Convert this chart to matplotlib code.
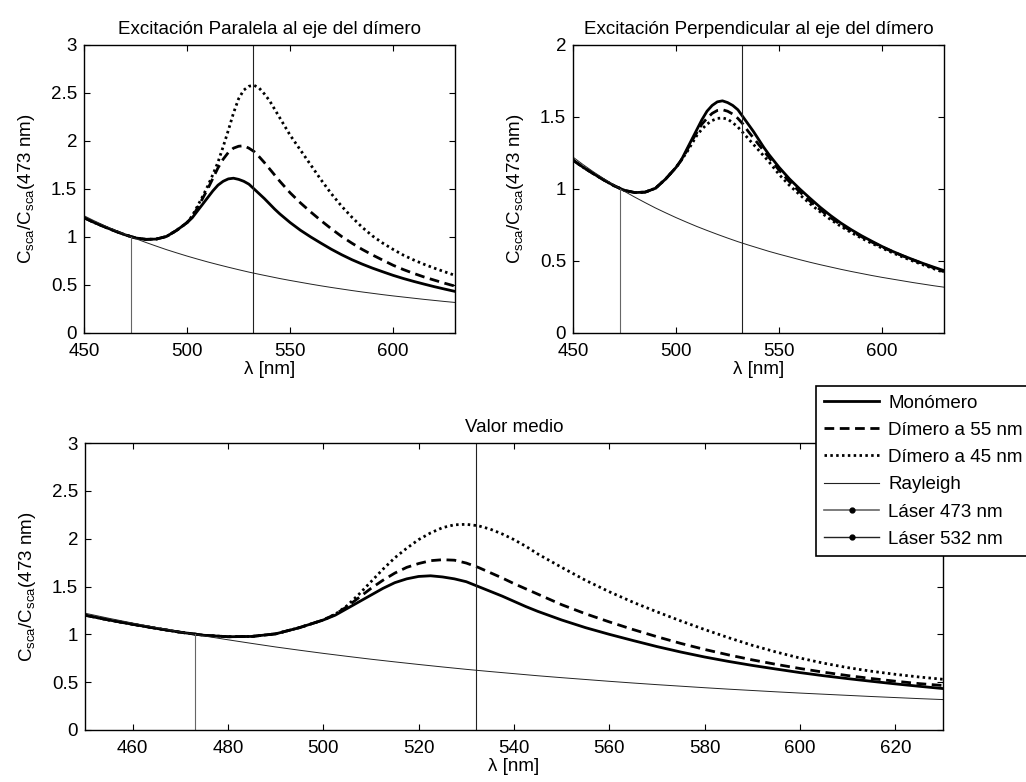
import numpy as np
import matplotlib
matplotlib.use("Agg")
import matplotlib.pyplot as plt
from matplotlib.lines import Line2D
from matplotlib.legend_handler import HandlerLine2D

plt.rcParams['font.family'] = ['Liberation Sans', 'DejaVu Sans']
FS = 13.5
plt.rcParams['font.size'] = FS

# --- Data (wavelength in nm) ---
# finer sampling across the plasmon peak (500-550 nm)
wl = np.concatenate([np.arange(450, 500, 5), np.arange(500, 550, 2.5), np.arange(550, 631, 5)])
wl_ray = np.arange(450, 631, 5)

# 450..495 nm, identical for every curve
base = [1.20, 1.15, 1.105, 1.062, 1.022, 0.99, 0.975, 0.978, 1.005, 1.07]

mono = base + [1.15, 1.20, 1.27, 1.34, 1.41, 1.48, 1.54, 1.58, 1.605, 1.612,
               1.60, 1.58, 1.55, 1.50, 1.45, 1.40, 1.345, 1.29, 1.24, 1.195] + \
              [1.15, 1.07, 1.00, 0.935, 0.872, 0.815, 0.763, 0.717, 0.675, 0.637,
               0.600, 0.567, 0.537, 0.509, 0.482, 0.457, 0.433]

# parallel excitation
par55 = base + [1.15, 1.21, 1.30, 1.40, 1.50, 1.61, 1.72, 1.81, 1.88, 1.925,
                1.945, 1.95, 1.925, 1.89, 1.835, 1.775, 1.71, 1.645, 1.58, 1.52] + \
               [1.46, 1.355, 1.26, 1.17, 1.085, 1.005, 0.935, 0.87, 0.812, 0.758,
                0.705, 0.66, 0.62, 0.583, 0.55, 0.518, 0.488]
par45 = base + [1.15, 1.22, 1.32, 1.42, 1.53, 1.65, 1.78, 1.94, 2.11, 2.29,
                2.44, 2.53, 2.57, 2.58, 2.55, 2.49, 2.42, 2.33, 2.24, 2.15] + \
               [2.06, 1.905, 1.75, 1.595, 1.45, 1.32, 1.205, 1.10, 1.01, 0.935,
                0.87, 0.81, 0.76, 0.715, 0.675, 0.637, 0.60]

# perpendicular excitation
per55 = base + [1.15, 1.20, 1.26, 1.33, 1.39, 1.45, 1.49, 1.525, 1.545, 1.55,
                1.54, 1.52, 1.49, 1.45, 1.40, 1.355, 1.31, 1.265, 1.22, 1.175] + \
               [1.13, 1.05, 0.98, 0.915, 0.855, 0.80, 0.752, 0.708, 0.668, 0.631,
                0.597, 0.565, 0.535, 0.507, 0.48, 0.452, 0.425]
per45 = base + [1.15, 1.20, 1.25, 1.31, 1.37, 1.415, 1.45, 1.475, 1.49, 1.493,
                1.485, 1.46, 1.43, 1.39, 1.35, 1.31, 1.27, 1.23, 1.19, 1.145] + \
               [1.10, 1.025, 0.96, 0.897, 0.84, 0.787, 0.74, 0.697, 0.658, 0.622,
                0.589, 0.557, 0.527, 0.499, 0.472, 0.446, 0.42]

# mean value
avg55 = base + [1.15, 1.21, 1.29, 1.385, 1.48, 1.565, 1.64, 1.70, 1.74, 1.77,
                1.78, 1.775, 1.745, 1.70, 1.645, 1.59, 1.53, 1.475, 1.42, 1.365] + \
               [1.31, 1.215, 1.13, 1.05, 0.975, 0.905, 0.842, 0.785, 0.733, 0.686,
                0.643, 0.604, 0.569, 0.538, 0.51, 0.485, 0.465]
avg45 = base + [1.15, 1.21, 1.30, 1.42, 1.55, 1.68, 1.80, 1.90, 1.99, 2.06,
                2.115, 2.145, 2.15, 2.135, 2.10, 2.05, 1.99, 1.92, 1.84, 1.77] + \
               [1.70, 1.565, 1.445, 1.335, 1.235, 1.14, 1.05, 0.965, 0.885, 0.815,
                0.752, 0.698, 0.652, 0.614, 0.582, 0.554, 0.53]

rayleigh = [1.221, 1.168, 1.118, 1.071, 1.026, 0.983, 0.943, 0.905, 0.868, 0.834,
            0.801, 0.770, 0.740, 0.712, 0.685, 0.659, 0.634, 0.611, 0.589, 0.567,
            0.547, 0.528, 0.509, 0.491, 0.474, 0.458, 0.442, 0.427, 0.413, 0.399,
            0.386, 0.374, 0.362, 0.350, 0.339, 0.328, 0.318]

laser_wl = [473, 532]
laser_top = [1.0, None]   # 473 nm stem stops on the curve, 532 nm reaches the top
labels = ['Monómero', 'Dímero a 55 nm', 'Dímero a 45 nm', 'Rayleigh',
          'Láser 473 nm', 'Láser 532 nm']

ylab = 'C$_\\mathregular{sca}$/C$_\\mathregular{sca}$(473 nm)'
LW = 2.0
DASH = (3.5, 2)
DOT = (0.9, 1.2)
laser_cols = ['#666666', '#222222']


class StemHandler(HandlerLine2D):
    # MATLAB stem legend: marker sits at the right end of the line
    def get_xdata(self, legend, xdescent, ydescent, width, height, fontsize):
        return [-xdescent, -xdescent + width], [-xdescent + width]


def draw(ax, m, d55, d45, ymax, title, xticks):
    ax.plot(wl, m, color='k', lw=LW)
    ax.plot(wl, d55, color='k', lw=LW, dashes=DASH)
    ax.plot(wl, d45, color='k', lw=LW, dashes=DOT)
    ax.plot(wl_ray, rayleigh, color='#222222', lw=0.7)
    for x, top, c in zip(laser_wl, laser_top, laser_cols):
        ax.plot([x, x], [0, ymax if top is None else top], color=c, lw=0.8)
    ax.set_xlim(450, 630)
    ax.set_ylim(0, ymax)
    ax.set_xticks(xticks)
    yt = np.arange(0, ymax + 0.01, 0.5)
    ax.set_yticks(yt)
    ax.set_yticklabels(['%g' % v for v in yt])
    ax.tick_params(direction='in', top=True, right=True, length=4, width=0.8)
    ax.tick_params(axis='x', pad=7)
    ax.tick_params(axis='y', pad=5)
    ax.set_title(title, fontsize=FS, pad=8)
    ax.set_xlabel('λ [nm]', labelpad=1)
    ax.set_ylabel(ylab, labelpad=10)
    for s in ax.spines.values():
        s.set_linewidth(1.0)


fig = plt.figure(figsize=(10.26, 7.82), dpi=100)
ax1 = fig.add_axes([0.0819, 0.5742, 0.3616, 0.3683])
ax2 = fig.add_axes([0.5585, 0.5742, 0.3616, 0.3683])
ax3 = fig.add_axes([0.0828, 0.0665, 0.8363, 0.367])

draw(ax1, mono, par55, par45, 3, 'Excitación Paralela al eje del dímero', [450, 500, 550, 600])
draw(ax2, mono, per55, per45, 2, 'Excitación Perpendicular al eje del dímero', [450, 500, 550, 600])
draw(ax3, mono, avg55, avg45, 3, 'Valor medio', np.arange(460, 621, 20))

handles = [
    Line2D([], [], color='k', lw=LW),
    Line2D([], [], color='k', lw=LW, dashes=DASH),
    Line2D([], [], color='k', lw=LW, dashes=DOT),
    Line2D([], [], color='#222222', lw=0.8),
    Line2D([], [], color=laser_cols[0], lw=1.2, marker='.', markersize=7,
           markerfacecolor='k', markeredgecolor='k'),
    Line2D([], [], color=laser_cols[1], lw=1.0, marker='.', markersize=7,
           markerfacecolor='k', markeredgecolor='k'),
]
leg = fig.legend(handles, labels, loc='upper left', bbox_to_anchor=(0.7953, 0.5064),
                 fancybox=False, framealpha=1, edgecolor='k', handlelength=2.9,
                 handletextpad=0.5, labelspacing=0.54, borderpad=0.45, fontsize=FS,
                 borderaxespad=0,
                 handler_map={h: StemHandler() for h in handles[4:]})
leg.get_frame().set_linewidth(1.2)

fig.savefig('out.png', dpi=100)
